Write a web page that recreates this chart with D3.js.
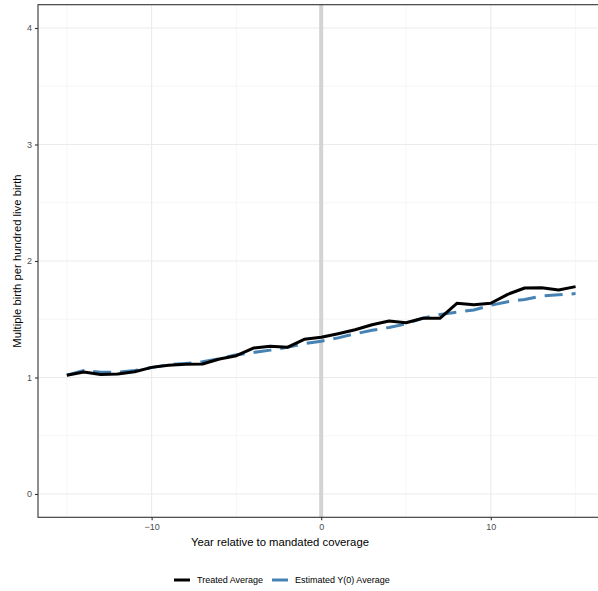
<!DOCTYPE html>
<html>
<head>
<meta charset="utf-8">
<script src="https://cdn.jsdelivr.net/npm/d3@7/dist/d3.min.js"></script>
<style>
  html, body { margin: 0; padding: 0; background: #fff; }
  svg { display: block; font-family: "Liberation Sans", Arial, sans-serif; }
</style>
</head>
<body>
<svg id="chart" width="598" height="591"></svg>
<script>
// Event time relative to the coverage mandate
const years = d3.range(-15, 16);

// Multiple births per hundred live births
const treatedAvg = [1.02, 1.047, 1.025, 1.03, 1.05, 1.087, 1.105, 1.113, 1.116, 1.159, 1.187, 1.253, 1.268, 1.259, 1.328,
  1.345, 1.376, 1.41, 1.453, 1.485, 1.47, 1.508, 1.508, 1.637, 1.625, 1.637, 1.714, 1.768, 1.771, 1.751, 1.78];
const estimatedY0 = [1.02, 1.06, 1.045, 1.045, 1.06, 1.085, 1.11, 1.12, 1.135, 1.16, 1.195, 1.215, 1.235, 1.26, 1.29,
  1.312, 1.34, 1.375, 1.405, 1.43, 1.46, 1.51, 1.54, 1.56, 1.58, 1.62, 1.65, 1.67, 1.70, 1.71, 1.72];

const xMajor = [-10, 0, 10];
const xMinor = [-15, -5, 5, 15];
const yMajor = [0, 1, 2, 3, 4];
const yMinor = [0.5, 1.5, 2.5, 3.5];

const seriesNames = ["Treated Average", "Estimated Y(0) Average"];

const svg = d3.select("#chart");
const panel = { left: 38, right: 601, top: 4.7, bottom: 517.3 };

const x = d3.scaleLinear().domain([-16.7, 16.5]).range([panel.left, panel.right]);
const y = d3.scaleLinear().domain([-0.2, 4.2]).range([panel.bottom, panel.top]);

const g = svg.append("g");

// grid
g.selectAll(".ymin").data(yMinor).join("line")
  .attr("x1", panel.left).attr("x2", panel.right)
  .attr("y1", d => y(d)).attr("y2", d => y(d))
  .attr("stroke", "#f0f0f0").attr("stroke-width", 0.6);
g.selectAll(".xmin").data(xMinor).join("line")
  .attr("y1", panel.top).attr("y2", panel.bottom)
  .attr("x1", d => x(d)).attr("x2", d => x(d))
  .attr("stroke", "#f0f0f0").attr("stroke-width", 0.6);
g.selectAll(".ymaj").data(yMajor).join("line")
  .attr("x1", panel.left).attr("x2", panel.right)
  .attr("y1", d => y(d)).attr("y2", d => y(d))
  .attr("stroke", "#ebebeb").attr("stroke-width", 1.1);
g.selectAll(".xmaj").data(xMajor).join("line")
  .attr("y1", panel.top).attr("y2", panel.bottom)
  .attr("x1", d => x(d)).attr("x2", d => x(d))
  .attr("stroke", "#ebebeb").attr("stroke-width", 1.1);

// reference line at the mandate year
g.append("line")
  .attr("x1", x(0)).attr("x2", x(0))
  .attr("y1", panel.top).attr("y2", panel.bottom)
  .attr("stroke", "#d3d3d3").attr("stroke-width", 4);

const line = d3.line().x((d, i) => x(years[i])).y(d => y(d));

g.append("path").datum(estimatedY0)
  .attr("d", line).attr("fill", "none")
  .attr("stroke", "#4682b4").attr("stroke-width", 3)
  .attr("stroke-dasharray", "18,9");

g.append("path").datum(treatedAvg)
  .attr("d", line).attr("fill", "none")
  .attr("stroke", "#000").attr("stroke-width", 3)
  .attr("stroke-linejoin", "round");

// panel border
g.append("rect")
  .attr("x", panel.left).attr("y", panel.top)
  .attr("width", panel.right - panel.left).attr("height", panel.bottom - panel.top)
  .attr("fill", "none").attr("stroke", "#333").attr("stroke-width", 1.1);

// axes
const xAxis = d3.axisBottom(x).tickValues(xMajor).tickSize(3).tickPadding(3)
  .tickFormat(d => d < 0 ? "\u2212" + Math.abs(d) : String(d));
const xg = svg.append("g").attr("transform", `translate(0,${panel.bottom})`).call(xAxis);
const yAxis = d3.axisLeft(y).tickValues(yMajor).tickSize(3).tickPadding(3)
  .tickFormat(d => String(d));
const yg = svg.append("g").attr("transform", `translate(${panel.left},0)`).call(yAxis);
[xg, yg].forEach(a => {
  a.select(".domain").remove();
  a.selectAll(".tick line").attr("stroke", "#333").attr("stroke-width", 1.1);
  a.selectAll(".tick text").attr("fill", "#4d4d4d")
    .style("font-size", "9px").style("font-family", "Liberation Sans, Arial, sans-serif");
});

// axis titles
svg.append("text")
  .attr("x", 280).attr("y", 546)
  .attr("text-anchor", "middle").attr("font-size", "11.3px").attr("fill", "#000")
  .text("Year relative to mandated coverage");
svg.append("text")
  .attr("transform", `translate(21,${(panel.top + panel.bottom) / 2}) rotate(-90)`)
  .attr("text-anchor", "middle").attr("font-size", "11.3px").attr("fill", "#000")
  .text("Multiple birth per hundred live birth");

// legend
const legend = svg.append("g").attr("transform", "translate(0,580)");
const keyX = [174, 272];
const keyColor = ["#000", "#4682b4"];
seriesNames.forEach((name, i) => {
  legend.append("line")
    .attr("x1", keyX[i]).attr("x2", keyX[i] + 16)
    .attr("y1", 0).attr("y2", 0)
    .attr("stroke", keyColor[i]).attr("stroke-width", 3);
  legend.append("text")
    .attr("x", keyX[i] + 23).attr("y", 3.3)
    .attr("font-size", "9px").attr("fill", "#000")
    .text(name);
});
</script>
</body>
</html>
